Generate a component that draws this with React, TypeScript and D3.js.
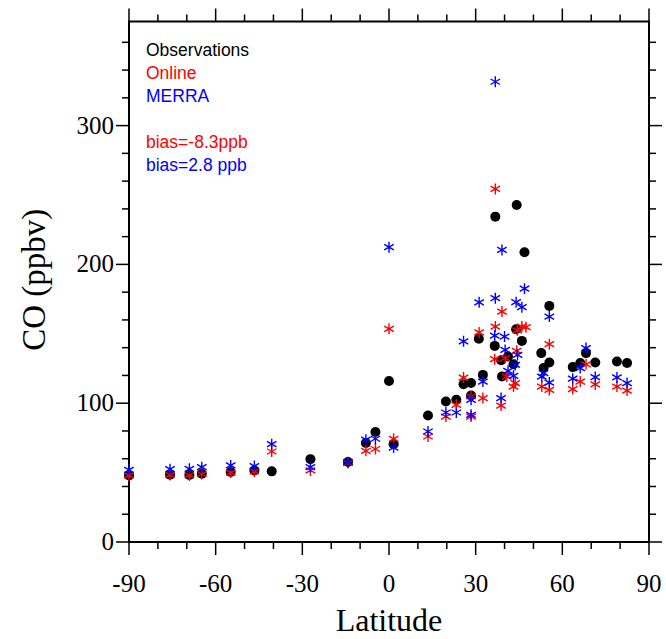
import React from "react";
import * as d3 from "d3";

const obsData: [number, number][] = [
  [-90, 48], [-75.8, 48.5], [-69.1, 48.3], [-64.8, 49.2], [-54.8, 50.4], [-46.6, 51.6],
  [-40.6, 50.9], [-27.2, 59.7], [-14.2, 57.6], [-8.0, 71.3], [-4.7, 79.2], [0, 116], [1.6, 70.5],
  [13.5, 91.2], [19.7, 101.2], [23.3, 102.5], [25.8, 113.7], [28.4, 114.5], [28.4, 105.5],
  [31.1, 146.4], [32.5, 120.4], [36.6, 141.3], [36.8, 234.4], [38.8, 131], [39.1, 119.2],
  [41.2, 133.6], [43.1, 128.1], [44.0, 153.3], [44.2, 242.8], [46.0, 144.9], [46.9, 208.8],
  [52.7, 136.1], [53.5, 125.3], [55.5, 170.1], [55.5, 129.3], [63.6, 126], [66.2, 128.9],
  [68.2, 136.1], [71.4, 129.3], [78.9, 130], [82.4, 128.9],
];

const onlineData: [number, number][] = [
  [-90, 48], [-75.8, 48.3], [-69.1, 48], [-64.8, 49], [-54.8, 50], [-46.6, 50.8],
  [-40.6, 65.2], [-27.2, 51.6], [-14.2, 57], [-8.0, 65.7], [-4.7, 67], [0, 153.6], [1.6, 74.3],
  [13.5, 76], [19.7, 90.4], [23.3, 98.8], [25.8, 118.5], [28.4, 105], [28.4, 90.4],
  [31.2, 151], [32.5, 103.7], [36.8, 155.2], [36.8, 254.4], [36.6, 131.7], [38.8, 98.3],
  [39.1, 166], [40.2, 132.5], [40.8, 119.2], [43.1, 112], [43.7, 114.5], [44.2, 137.7],
  [44.4, 152.5], [46.0, 155.2], [47.4, 154.8], [52.9, 112], [55.5, 142.5], [55.5, 109.6],
  [63.6, 110.2], [66.2, 115.6], [68.2, 128], [71.4, 113.5], [78.9, 112], [82.4, 109.1],
];

const merraData: [number, number][] = [
  [-90, 52], [-75.8, 52.5], [-69.1, 52.7], [-64.8, 53.9], [-54.8, 55.2], [-46.6, 54.7],
  [-40.6, 70.5], [-27.2, 54], [-14.2, 57.5], [-8.0, 73.7], [-4.7, 74.4], [0, 212.4], [1.6, 68],
  [13.5, 79.6], [19.7, 93.3], [23.3, 93.3], [25.8, 144.6], [28.4, 102.4], [28.4, 91.6],
  [31.2, 172.7], [32.5, 115.6], [36.6, 148.7], [36.8, 175.7], [36.8, 331.6], [38.8, 103.7],
  [39.1, 210.4], [40.0, 148], [40.2, 138.4], [41.2, 123.3], [43.1, 119.7], [43.7, 127.6],
  [44.0, 172.8], [44.5, 134.8], [46.0, 169.2], [46.9, 182.5], [52.9, 119.2], [53.5, 121.7],
  [55.5, 162.4], [55.5, 114.9], [63.6, 117.7], [66.2, 125.3], [68.2, 139.7], [71.4, 118.8],
  [78.9, 118.6], [82.4, 114.5],
];

const xMajorTicks = [-90, -60, -30, 0, 30, 60, 90];
const yMajorTicks = [0, 100, 200, 300];
const legendLines = [
  { text: "Observations", color: "#000000" },
  { text: "Online", color: "#ff0000" },
  { text: "MERRA", color: "#0000ff" },
  { text: "", color: "#000000" },
  { text: "bias=-8.3ppb", color: "#ff0000" },
  { text: "bias=2.8 ppb", color: "#0000ff" },
];

const W = 666;
const H = 639;
const L = 129, R = 649, T = 21.5, B = 542;
const serif = "'Liberation Serif', 'Times New Roman', serif";

export default function App() {
  const x = d3.scaleLinear().domain([-90, 90]).range([L, R]);
  const y = d3.scaleLinear().domain([0, 375]).range([B, T]);
  const xMinor = d3.range(-90, 91, 10).filter((v) => v % 30 !== 0);
  const yMinor = d3.range(0, 376, 20).filter((v) => v % 100 !== 0);

  const star = (cx: number, cy: number, color: string, key: string) => {
    const r = 5.5;
    const segs = [90, 30, 150].map((a) => {
      const rad = (a * Math.PI) / 180;
      const dx = r * Math.cos(rad), dy = r * Math.sin(rad);
      return `M${cx - dx},${cy + dy}L${cx + dx},${cy - dy}`;
    });
    return <path key={key} d={segs.join("")} stroke={color} strokeWidth={1.4} fill="none" />;
  };

  const majLen = 13, minLen = 7;
  const tickStyle = { stroke: "#000", strokeWidth: 1.5 };

  return (
    <svg width={W} height={H} style={{ position: "absolute", left: 0, top: 0, background: "#fff" }}>
      <rect x={0} y={0} width={W} height={H} fill="#fff" />
      {xMajorTicks.map((v) => (
        <g key={"xm" + v}>
          <line x1={x(v)} x2={x(v)} y1={B} y2={B + majLen} {...tickStyle} />
          <line x1={x(v)} x2={x(v)} y1={T} y2={T - majLen} {...tickStyle} />
        </g>
      ))}
      {xMinor.map((v) => (
        <g key={"xn" + v}>
          <line x1={x(v)} x2={x(v)} y1={B} y2={B + minLen} {...tickStyle} />
          <line x1={x(v)} x2={x(v)} y1={T} y2={T - minLen} {...tickStyle} />
        </g>
      ))}
      {yMajorTicks.map((v) => (
        <g key={"ym" + v}>
          <line x1={L} x2={L - majLen} y1={y(v)} y2={y(v)} {...tickStyle} />
          <line x1={R} x2={R + majLen} y1={y(v)} y2={y(v)} {...tickStyle} />
        </g>
      ))}
      {yMinor.map((v) => (
        <g key={"yn" + v}>
          <line x1={L} x2={L - minLen} y1={y(v)} y2={y(v)} {...tickStyle} />
          <line x1={R} x2={R + minLen} y1={y(v)} y2={y(v)} {...tickStyle} />
        </g>
      ))}
      <rect x={L} y={T} width={R - L} height={B - T} fill="none" stroke="#000" strokeWidth={2} />
      {xMajorTicks.map((v) => (
        <text key={"xl" + v} x={x(v)} y={592} textAnchor="middle" fontFamily={serif} fontSize={25} fill="#000">
          {v}
        </text>
      ))}
      {yMajorTicks.map((v) => (
        <text key={"yl" + v} x={L - 15} y={y(v) + 8} textAnchor="end" fontFamily={serif} fontSize={25} fill="#000">
          {v}
        </text>
      ))}
      <text x={(L + R) / 2} y={631} textAnchor="middle" fontFamily={serif} fontSize={32} fill="#000">
        Latitude
      </text>
      <text transform={`translate(45,${(T + B) / 2 - 2}) rotate(-90)`} textAnchor="middle" fontFamily={serif} fontSize={33} fill="#000">
        CO (ppbv)
      </text>
      {obsData.map(([a, b], i) => (
        <circle key={"o" + i} cx={x(a)} cy={y(b)} r={5} fill="#000" />
      ))}
      {onlineData.map(([a, b], i) => star(x(a), y(b), "#ff0000", "n" + i))}
      {merraData.map(([a, b], i) => star(x(a), y(b), "#0000ff", "m" + i))}
      {legendLines.map((l, i) => (
        <text key={"lg" + i} x={146} y={56 + i * 23} fontFamily="'Liberation Sans', Arial, sans-serif" fontSize={17.5} fill={l.color}>
          {l.text}
        </text>
      ))}
    </svg>
  );
}
